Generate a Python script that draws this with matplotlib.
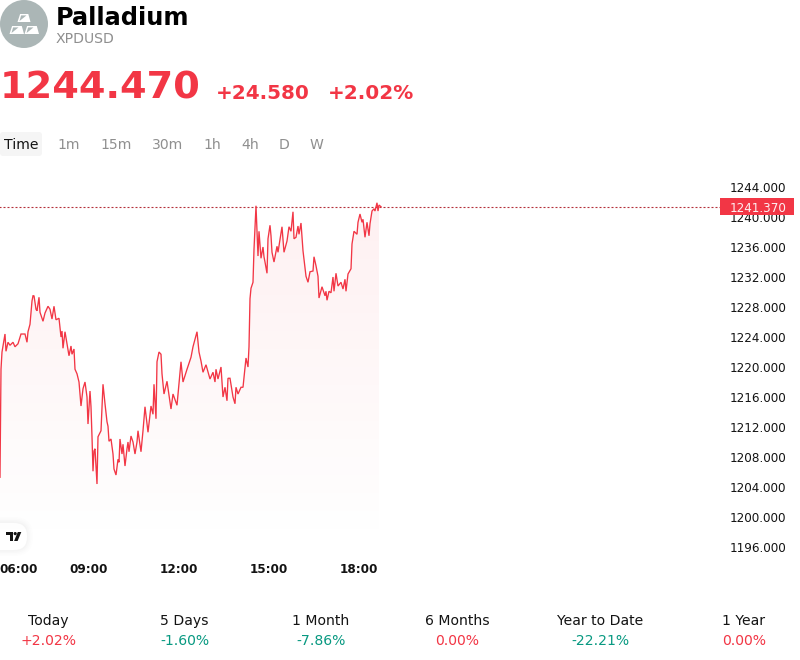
import numpy as np
import matplotlib
matplotlib.use('Agg')
import matplotlib.pyplot as plt
from matplotlib.patches import Circle, FancyBboxPatch, Polygon, Rectangle
from matplotlib.transforms import blended_transform_factory

# Session quotes: minutes after 06:00 and last price
minutes = [
    2, 4, 6, 12, 14, 18, 22, 28, 32, 38, 44, 52, 56, 58, 62, 66, 68, 70, 74, 76,
    80, 82, 88, 92, 98, 102, 106, 110, 114, 120, 124, 126, 128, 132, 136, 140,
    144, 146, 150, 152, 156, 160, 164, 168, 172, 176, 178, 180, 182, 184, 186,
    188, 190, 192, 196, 198, 204, 208, 212, 216, 218, 220, 224, 228, 230, 234,
    238, 240, 242, 246, 248, 252, 256, 258, 260, 264, 268, 272, 276, 278, 284,
    288, 292, 296, 298, 304, 308, 310, 314, 316, 320, 324, 326, 330, 336, 344,
    348, 356, 364, 368, 376, 384, 388, 396, 400, 404, 408, 414, 422, 428, 432,
    434, 438, 444, 448, 452, 456, 458, 462, 468, 472, 474, 478, 484, 488, 494,
    498, 500, 502, 504, 508, 510, 514, 516, 518, 520, 524, 528, 530, 532, 536,
    538, 542, 544, 546, 550, 556, 558, 566, 570, 576, 580, 584, 588, 590, 594,
    598, 600, 604, 608, 614, 618, 622, 628, 630, 634, 638, 640, 646, 652, 654,
    656, 660, 664, 668, 670, 674, 678, 684, 688, 692, 694, 698, 704, 706, 710,
    716, 718, 722, 726, 728, 732, 736, 740, 742, 746, 750, 752, 756, 758, 760,
    764,
]
prices = [
    1205.3, 1219.7, 1222.0, 1224.4, 1222.1, 1223.3, 1222.9, 1223.3, 1222.7, 1223.1,
    1224.4, 1224.4, 1223.3, 1224.7, 1225.7, 1228.8, 1229.5, 1229.5, 1227.7, 1227.5,
    1229.3, 1227.3, 1226.1, 1227.2, 1228.1, 1227.7, 1226.4, 1228.1, 1226.3, 1226.5,
    1224.0, 1224.8, 1222.5, 1224.7, 1223.1, 1221.5, 1222.8, 1221.7, 1222.4, 1219.7,
    1219.1, 1218.0, 1214.8, 1217.1, 1218.0, 1216.0, 1212.4, 1214.7, 1216.8, 1214.7,
    1210.7, 1206.1, 1208.8, 1209.1, 1204.4, 1210.7, 1211.5, 1217.7, 1215.1, 1212.7,
    1212.1, 1210.1, 1210.4, 1208.4, 1206.4, 1205.6, 1207.7, 1207.3, 1210.4, 1208.4,
    1209.7, 1206.8, 1209.1, 1210.0, 1208.7, 1210.8, 1210.0, 1208.4, 1210.0, 1211.5,
    1208.7, 1211.5, 1214.7, 1212.4, 1211.3, 1214.8, 1213.7, 1217.7, 1213.1, 1220.7,
    1222.0, 1221.7, 1219.1, 1216.4, 1218.1, 1214.4, 1216.4, 1214.9, 1220.7, 1218.0,
    1219.7, 1221.3, 1222.7, 1224.7, 1222.0, 1220.8, 1219.3, 1220.3, 1218.4, 1219.3,
    1218.0, 1219.7, 1218.4, 1220.0, 1216.0, 1217.3, 1215.5, 1218.5, 1218.5, 1216.0,
    1215.1, 1217.3, 1216.4, 1217.3, 1217.3, 1221.2, 1220.0, 1222.7, 1229.1, 1230.5,
    1231.3, 1235.7, 1241.5, 1238.0, 1234.8, 1238.1, 1234.5, 1236.0, 1234.7, 1234.0,
    1232.5, 1237.1, 1238.9, 1237.5, 1235.3, 1234.0, 1236.1, 1235.3, 1238.7, 1235.3,
    1236.8, 1238.7, 1238.1, 1240.7, 1237.1, 1237.3, 1238.8, 1237.7, 1239.2, 1235.5,
    1232.1, 1231.3, 1232.7, 1232.8, 1234.7, 1233.5, 1232.1, 1229.2, 1230.7, 1229.5,
    1230.1, 1228.9, 1230.1, 1229.9, 1232.0, 1230.1, 1232.5, 1230.8, 1231.3, 1230.4,
    1231.7, 1230.1, 1232.4, 1233.1, 1236.4, 1238.1, 1237.7, 1239.3, 1240.4, 1239.3,
    1239.7, 1237.3, 1239.3, 1237.5, 1239.1, 1240.8, 1241.1, 1240.8, 1241.9, 1240.8,
    1241.6, 1241.37,
]
last_price = 1241.37

y_ticks = [1196, 1200, 1204, 1208, 1212, 1216, 1220, 1224, 1228, 1232, 1236, 1240, 1244]
x_ticks = [0, 180, 360, 540, 720]
x_labels = ['06:00', '09:00', '12:00', '15:00', '18:00']

intervals = ['Time', '1m', '15m', '30m', '1h', '4h', 'D', 'W']
interval_x = [4, 57.5, 100, 152, 203, 241, 279, 310]

periods = ['Today', '5 Days', '1 Month', '6 Months', 'Year to Date', '1 Year']
period_changes = ['+2.02%', '-1.60%', '-7.86%', '0.00%', '-22.21%', '0.00%']
period_x = [48, 184.5, 321, 457, 600, 744]

RED = '#F23645'
GREEN = '#089981'
INK = '#131313'
GREY = '#8f8f8f'
BADGE = '#abb6b6'


def px(size):
    return size * 0.72


fig = plt.figure(figsize=(8, 6.6), dpi=100, facecolor='white')

# Page layer, addressed in screen pixels with the origin at the top left
page = fig.add_axes([0, 0, 1, 1], zorder=1)
page.set_xlim(0, 800)
page.set_ylim(660, 0)
page.axis('off')

# Chart pane runs from x=-1 to x=720 and from y=179 to y=559
ax = fig.add_axes([-1 / 800, 101 / 660, 721 / 800, 380 / 660], zorder=2)
ax.patch.set_alpha(0)
for spine in ax.spines.values():
    spine.set_visible(False)
ax.set_xlim(0, 1442)
ax.set_ylim(1194.4, 1245.07)

# Area under the line, fading to nothing towards the bottom
floor = 1198.4
area = ax.fill_between(minutes[:-1], prices[:-1], floor, facecolor='none', edgecolor='none')
shade = np.ones((256, 1, 4))
shade[:, :, :3] = matplotlib.colors.to_rgb(RED)
shade[:, 0, 3] = np.linspace(0.075, 0.004, 256)
im = ax.imshow(shade, extent=(0, 800, floor, max(prices)), aspect='auto',
               interpolation='bilinear', zorder=1)
im.set_clip_path(area.get_paths()[0], ax.transData)
ax.set_xlim(0, 1442)
ax.set_ylim(1194.4, 1245.07)

ax.plot(minutes, prices, color=RED, linewidth=0.95, solid_joinstyle='miter', zorder=3)
ax.axhline(last_price, color='#b5303a', linewidth=0.8, linestyle=(0, (1.8, 1.8)), zorder=2)

ax.yaxis.tick_right()
ax.set_yticks(y_ticks)
ax.set_yticklabels([f'{v:.3f}' for v in y_ticks], fontsize=px(12), color=INK)
ax.tick_params(axis='y', length=0, pad=7.2)
ax.set_xticks(x_ticks)
ax.set_xticklabels(x_labels, fontsize=px(12), fontweight='bold', color=INK)
ax.tick_params(axis='x', length=0, pad=2.6)
ax.get_xticklabels()[0].set_ha('left')

# Last price flag on the scale
flag_tf = blended_transform_factory(ax.transAxes, ax.transData)
ax.add_patch(Rectangle((1.0, last_price - 8.5 / 7.5), 74 / 721, 17 / 7.5, transform=flag_tf,
                       facecolor=RED, edgecolor='none', clip_on=False, zorder=5))
ax.text(1.0 + 38.5 / 721, last_price, f'{last_price:.3f}', transform=flag_tf, color='white',
        fontsize=px(12), ha='center', va='center_baseline', zorder=6, alpha=0.92)

# Symbol badge: grey disc with three ingots
page.add_patch(Circle((24, 24), 24, facecolor=BADGE, edgecolor='none'))
for ox, oy, w in [(17.5, 14, 13), (9.5, 26, 14.5), (24.5, 26, 14.5)]:
    page.add_patch(Polygon([(ox + 2.6, oy), (ox + w - 2.2, oy), (ox + w, oy + 8), (ox, oy + 8)],
                           closed=True, facecolor='white', edgecolor='none'))
    page.add_patch(Polygon([(ox + 2.0, oy + 7), (ox + 3.6, oy + 1.4), (ox + 9, oy + 1.4)],
                           closed=True, facecolor=BADGE, edgecolor='none'))

page.text(56, 25, 'Palladium', fontsize=px(24), fontweight='bold', color='black', va='baseline')
page.text(56, 43, 'XPDUSD', fontsize=px(14), color=GREY, va='baseline')

page.text(0, 98.5, '1244.470', fontsize=px(38.2), fontweight='bold', color=RED, va='baseline')
page.text(216, 99, '+24.580', fontsize=px(20), fontweight='bold', color=RED, va='baseline')
page.text(328, 99, '+2.02%', fontsize=px(20), fontweight='bold', color=RED, va='baseline')

# Interval selector
page.add_patch(FancyBboxPatch((2, 134), 38, 20, boxstyle='round,pad=2,rounding_size=3',
                              facecolor='#f5f5f5', edgecolor='none'))
for i, (label, x) in enumerate(zip(intervals, interval_x)):
    page.text(x, 149, label, fontsize=px(14), color=INK if i == 0 else GREY, va='baseline')

# Attribution pill in the chart corner
for grow, alpha in [(6, 0.006), (4.5, 0.008), (3, 0.01), (1.5, 0.012)]:
    page.add_patch(FancyBboxPatch((-20 - grow, 523 - grow), 47 + 2 * grow, 27 + 2 * grow,
                                  boxstyle='round,pad=0,rounding_size=%g' % (13 + grow),
                                  facecolor='black', alpha=alpha, edgecolor='none'))
page.add_patch(FancyBboxPatch((-20, 523), 47, 27, boxstyle='round,pad=0,rounding_size=13',
                              facecolor='white', edgecolor='none'))
page.add_patch(Polygon([(6, 532), (13, 532), (13, 541), (9.8, 541), (9.8, 535.2), (6, 535.2)],
                       closed=True, facecolor=INK, edgecolor='none'))
page.add_patch(Circle((15.2, 533.6), 1.6, facecolor=INK, edgecolor='none'))
page.add_patch(Polygon([(17.8, 532), (21.3, 532), (17.6, 541), (14.1, 541)],
                       closed=True, facecolor=INK, edgecolor='none'))

# Performance row under the chart
for label, change, x in zip(periods, period_changes, period_x):
    page.text(x, 625, label, fontsize=px(14), color=INK, ha='center', va='baseline')
    page.text(x, 645, change, fontsize=px(14), color=GREEN if change.startswith('-') else RED,
              ha='center', va='baseline')

fig.savefig('out.png', dpi=100)
